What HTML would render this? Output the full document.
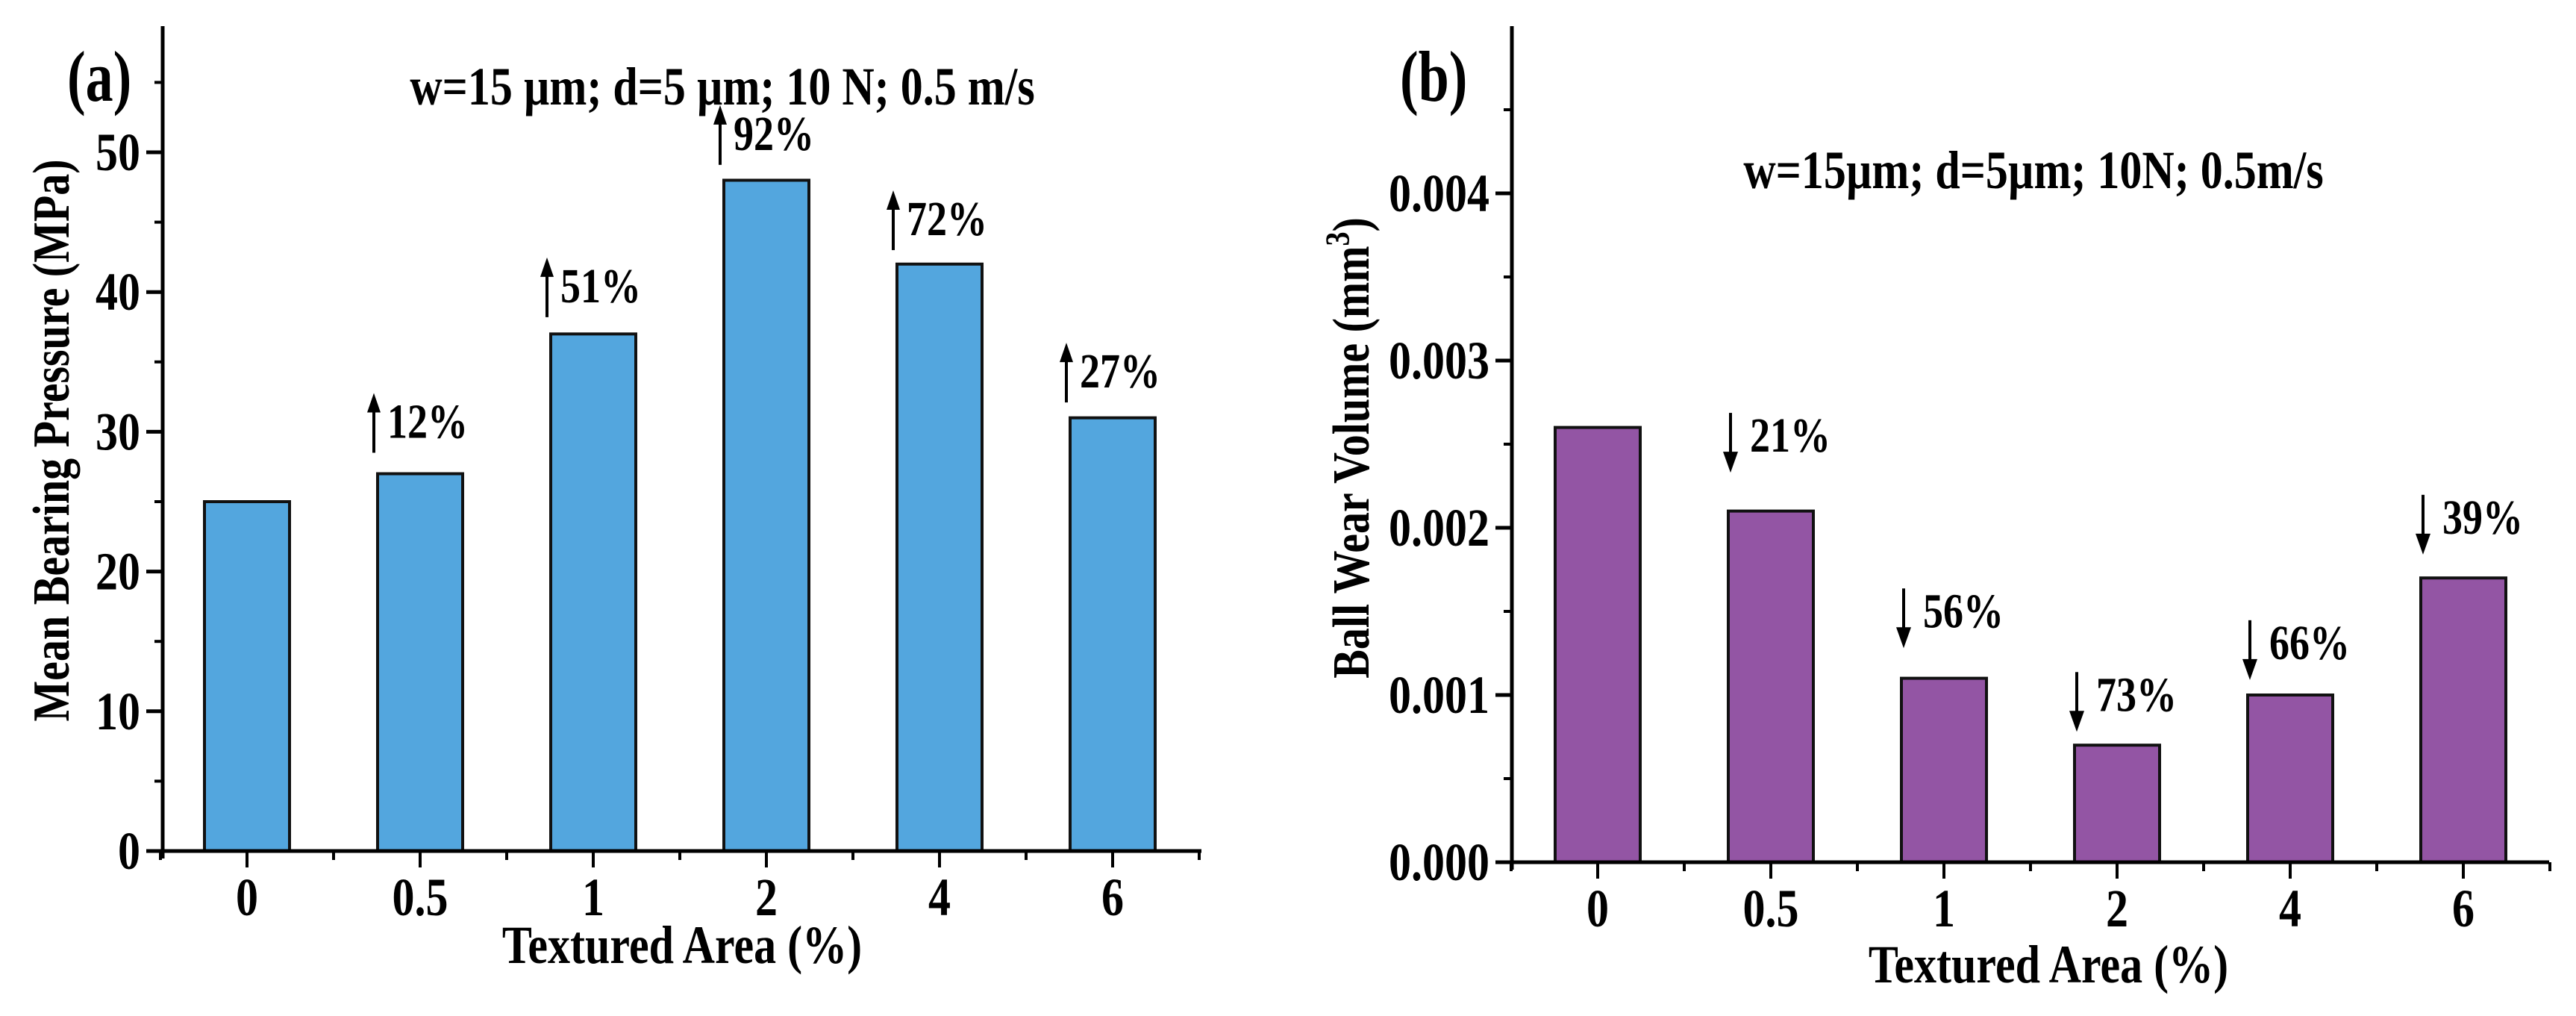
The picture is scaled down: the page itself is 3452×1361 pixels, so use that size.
<!DOCTYPE html>
<html><head><meta charset="utf-8"><style>
html,body{margin:0;padding:0;background:#fff;}
svg{display:block;font-family:"Liberation Serif",serif;font-weight:bold;}
</style></head><body>
<svg id="fig" width="3452" height="1361" viewBox="0 0 3452 1361" xmlns="http://www.w3.org/2000/svg"></svg>
<script>
const categories = ["0","0.5","1","2","4","6"];
const pressureValues = [25, 27, 37, 48, 42, 31];
const pressureTicks = [0, 10, 20, 30, 40, 50];
const pressureLabels = ["", "12%", "51%", "92%", "72%", "27%"];
const pressureArrowBase = [0, 28.5, 38.2, 49.1, 43, 32.1];
const wearValues = [0.0026, 0.0021, 0.0011, 0.0007, 0.0010, 0.0017];
const wearTicks = [0, 0.001, 0.002, 0.003, 0.004];
const wearTickLabels = ["0.000","0.001","0.002","0.003","0.004"];
const wearLabels = ["", "21%", "56%", "73%", "66%", "39%"];
const wearArrowTip = [0, 0.00233, 0.00128, 0.00078, 0.00109, 0.00184];

const NS = "http://www.w3.org/2000/svg";
const svg = document.getElementById("fig");
function mk(tag, attrs, parent, text){
  const e = document.createElementNS(NS, tag);
  for (const k in attrs) e.setAttribute(k, attrs[k]);
  if (text !== undefined) e.textContent = text;
  (parent || svg).appendChild(e);
  return e;
}
function txt(parent, x, y, str, size, anchor, sx, sy, rot){
  const t = mk("text", {x: 0, y: 0, "text-anchor": anchor, "font-size": size,
    transform: `translate(${x},${y})${rot ? ' rotate(' + rot + ')' : ''} scale(${sx},${sy})`}, parent, str);
  return t;
}

function panel(cfg){
  const g = mk("g", {});
  
  
  const x = i => cfg.x0 + cfg.dx * i;
  const y = v => cfg.yBase - (v / cfg.yMax) * (cfg.yBase - cfg.yTopVal);
  cfg.values.forEach((v, i) => {
    const r = mk("rect", {x: x(i) - 57, y: y(v), width: 114, height: cfg.yBase - y(v), fill: cfg.color, stroke: "#111", "stroke-width": 4}, g);
    
    
  });
  const ya = mk("line", {x1: cfg.ax, y1: 35, x2: cfg.ax, y2: cfg.yBase + 10, stroke: "#000", "stroke-width": 5}, g);
  
  
  const xa = mk("line", {x1: cfg.ax - 22, y1: cfg.yBase, x2: cfg.xEnd, y2: cfg.yBase, stroke: "#000", "stroke-width": 5}, g);
  
  
  cfg.ticks.forEach((t, i) => {
    const yy = y(t);
    mk("line", {x1: cfg.ax - 22, y1: yy, x2: cfg.ax, y2: yy, stroke: "#000", "stroke-width": 5}, g);
    const tl = txt(g, cfg.ax - 30, yy + 24, cfg.tickLabels[i], 60, "end", 1.0, 1.2);
    
    
    const ym = y(t + cfg.step / 2);
    if (ym > 40) mk("line", {x1: cfg.ax - 11, y1: ym, x2: cfg.ax, y2: ym, stroke: "#000", "stroke-width": 4}, g);
  });
  categories.forEach((c, i) => {
    mk("line", {x1: x(i), y1: cfg.yBase, x2: x(i), y2: cfg.yBase + 22, stroke: "#000", "stroke-width": 4}, g);
    mk("line", {x1: x(i) + cfg.dx / 2, y1: cfg.yBase, x2: x(i) + cfg.dx / 2, y2: cfg.yBase + 12, stroke: "#000", "stroke-width": 4}, g);
    if (i === 0) mk("line", {x1: x(i) - cfg.dx / 2, y1: cfg.yBase, x2: x(i) - cfg.dx / 2, y2: cfg.yBase + 12, stroke: "#000", "stroke-width": 4}, g);
    const tl = txt(g, x(i), cfg.yBase + 86, c, 60, "middle", 1.0, 1.2);
    
    
  });
  cfg.labels.forEach((lab, i) => {
    if (!lab) return;
    const ax = x(i) + cfg.arrowDx;
    const y2 = y(cfg.arrowVals[i]);
    const y1 = y2 - 80;
    const a = mk("g", {}, g);
    
    
    if (cfg.up) {
      mk("line", {x1: ax, y1: y1 + 20, x2: ax, y2: y2, stroke: "#000", "stroke-width": 4}, a);
      mk("polygon", {points: `${ax-9},${y1+26} ${ax+9},${y1+26} ${ax},${y1}`, fill: "#000"}, a);
    } else {
      mk("line", {x1: ax, y1: y1, x2: ax, y2: y2 - 20, stroke: "#000", "stroke-width": 4}, a);
      mk("polygon", {points: `${ax-10},${y2-28} ${ax+10},${y2-28} ${ax},${y2}`, fill: "#000"}, a);
    }
    const t = txt(g, ax + (cfg.up ? 18 : 26), y1 + (cfg.up ? 60 : 52), lab, 54, "start", 1.0, 1.22);
    
    
  });
  const pl = txt(g, cfg.tagX, 135, cfg.tag, 74, "start", 1.0, 1.3);
  
  
  const ti = txt(g, cfg.titleX, cfg.titleY, cfg.title, 60, "middle", 1.0, 1.2);
  
  
  const xt = txt(g, cfg.xTitleX, cfg.xTitleY, "Textured Area (%)", 60, "middle", 1.0, 1.2);
  
  
  const yt = txt(g, cfg.yTitleX, cfg.yTitleY, "", 58, "middle", 1.0, 1.2, -90);
  
  
  yt.innerHTML = cfg.yTitleHTML;
}

panel({name: "panel-a-bearing-pressure", x0: 331, dx: 232, ax: 218, xEnd: 1610, yBase: 1140, yTopVal: 204, yMax: 50,
  values: pressureValues, ticks: pressureTicks, tickLabels: pressureTicks.map(String), step: 10,
  color: "#53a6de", labels: pressureLabels, arrowVals: pressureArrowBase, arrowDx: -62, up: true,
  tag: "(a)", tagX: 90, title: "w=15 µm; d=5 µm; 10 N; 0.5 m/s", titleX: 968, titleY: 140,
  xTitleX: 914, xTitleY: 1290, yTitleX: 92, yTitleY: 590, yTitleHTML: "Mean Bearing Pressure (MPa)"});

panel({name: "panel-b-ball-wear", x0: 2141, dx: 232, ax: 2026, xEnd: 3416, yBase: 1155, yTopVal: 259, yMax: 0.004,
  values: wearValues, ticks: wearTicks, tickLabels: wearTickLabels, step: 0.001,
  color: "#9355a4", labels: wearLabels, arrowVals: wearArrowTip, arrowDx: -54, up: false,
  tag: "(b)", tagX: 1876, title: "w=15µm; d=5µm; 10N; 0.5m/s", titleX: 2725, titleY: 252,
  xTitleX: 2745, xTitleY: 1316, yTitleX: 1834, yTitleY: 600, yTitleHTML: 'Ball Wear Volume (mm<tspan dy="-22" font-size="38">3</tspan><tspan dy="22">)</tspan>'});
</script>
</body></html>
